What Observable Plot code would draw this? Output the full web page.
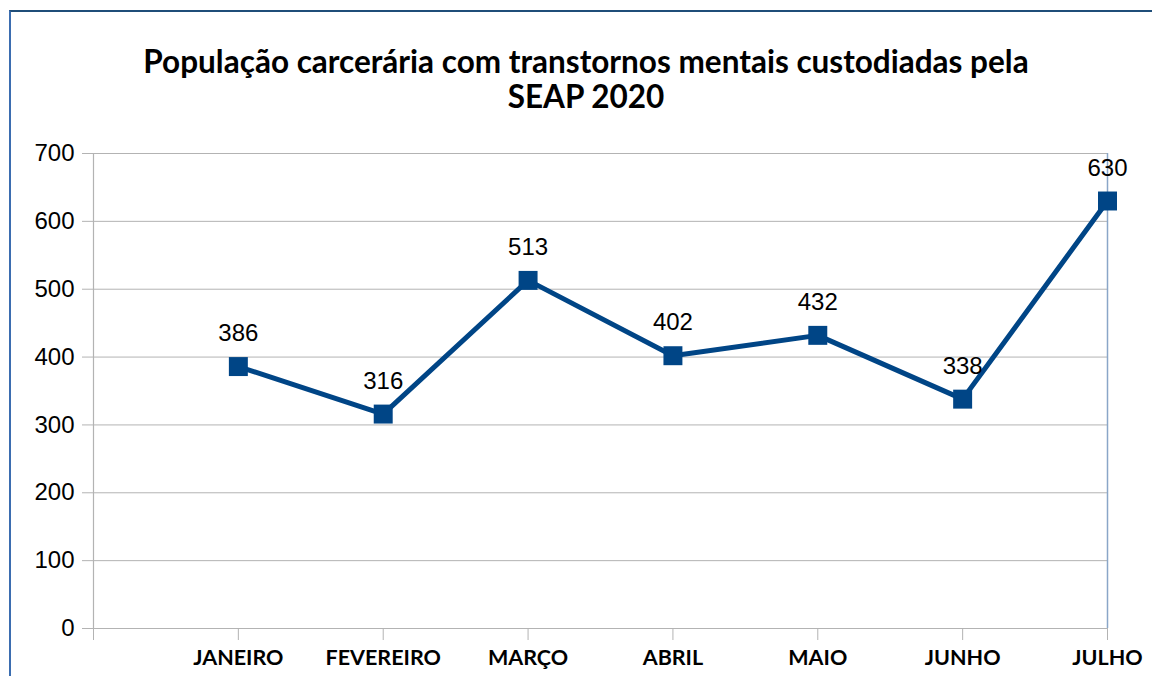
<!DOCTYPE html>
<html>
<head>
<meta charset="utf-8">
<script src="https://cdn.jsdelivr.net/npm/d3@7"></script>
<script src="https://cdn.jsdelivr.net/npm/@observablehq/plot@0.6"></script>
<style>
  html, body { margin: 0; padding: 0; background: #fff; }
  #wrap { position: relative; width: 1152px; height: 676px; overflow: hidden; }
  #frame { position: absolute; left: 9px; top: 10px; width: 1200px; height: 800px;
           border-top: 2px solid #1f4e79; border-left: 2px solid #3b6db0; box-sizing: border-box; }
  #title { position: absolute; left: 0; top: 44px; width: 1172px; text-align: center;
           font-family: Lato, "Open Sans", sans-serif; font-weight: bold; font-size: 31.5px;
           line-height: 35px; color: #000; }
  #chart { position: absolute; left: 0; top: 130px; }
</style>
</head>
<body>
<div id="wrap">
  <div id="frame"></div>
  <div id="title">População carcerária com transtornos mentais custodiadas pela<br>SEAP 2020</div>
  <div id="chart"></div>
</div>
<script>
const months = ["JANEIRO", "FEVEREIRO", "MARÇO", "ABRIL", "MAIO", "JUNHO", "JULHO"];
const values = [386, 316, 513, 402, 432, 338, 630];
const yTicks = [0, 100, 200, 300, 400, 500, 600, 700];

const data = months.map((m, i) => ({idx: i + 1, month: m, value: values[i]}));
const color = "#004586";

const plot = Plot.plot({
  width: 1152,
  height: 546,
  marginTop: 23,
  marginBottom: 48,
  marginLeft: 93,
  marginRight: 45,
  style: {fontFamily: "'Liberation Sans', Arial, sans-serif", background: "transparent", overflow: "visible"},
  x: {domain: [0, months.length], ticks: d3.range(0, months.length + 1), tickFormat: i => i === 0 ? "" : months[i - 1], label: null},
  y: {domain: [0, 700], ticks: yTicks, label: null},
  marks: [
    Plot.gridY(yTicks, {stroke: "#b3b3b3", strokeOpacity: 1, strokeWidth: 1}),
    Plot.ruleX([0], {stroke: "#b3b3b3", strokeWidth: 1.2}),
    Plot.ruleX([months.length], {stroke: "#8aa6c8", strokeWidth: 1.5}),
    Plot.axisY(yTicks, {tickSize: 11, tickPadding: 8, fontSize: 24, stroke: "#b3b3b3", fill: "#000", label: null}),
    Plot.axisX(d3.range(0, months.length + 1), {tickSize: 12, tickPadding: 9, fontSize: 21.5, fontWeight: "bold",
      fontFamily: "Lato, 'Open Sans', sans-serif", stroke: "#b3b3b3", fill: "#000", label: null,
      tickFormat: i => i === 0 ? "" : months[i - 1]}),
    Plot.line(data, {x: "idx", y: "value", stroke: color, strokeWidth: 5}),
    Plot.dot(data, {x: "idx", y: "value", symbol: "square", r: 10.7, fill: color, stroke: "none"}),
    Plot.text(data, {x: "idx", y: "value", text: d => String(d.value), dy: -33, fontSize: 24, fill: "#000"})
  ]
});
document.getElementById("chart").appendChild(plot);
</script>
</body>
</html>
